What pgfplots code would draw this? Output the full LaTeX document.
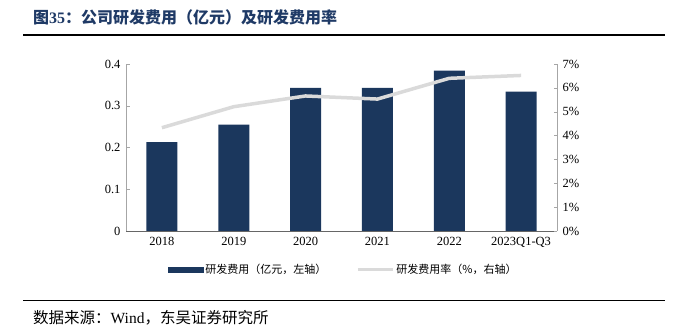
\documentclass[border=0pt]{standalone}
\usepackage{pgfplots}
\pgfplotsset{compat=1.18}
\usepackage{fontspec}
\setmainfont{Liberation Serif}
\newfontfamily\cjk{Noto Sans CJK SC}
\definecolor{barblue}{HTML}{1B375D}
\definecolor{linegray}{HTML}{DADADA}
\definecolor{titleblue}{HTML}{1F3A66}
\definecolor{axgray}{HTML}{A6A6A6}
\pgfplotsset{
 barlegend/.style={legend image code/.code={\fill[barblue] (0pt,-2.5pt) rectangle (35pt,2.5pt);}},
 linelegend/.style={legend image code/.code={\draw[linegray, line width=3pt] (0pt,0pt) -- (35pt,0pt);}},
}
\begin{document}
\begin{tikzpicture}[x=1pt,y=1pt]
\useasboundingbox (0,0) rectangle (682,332);
\node[anchor=west, text=titleblue, font=\fontsize{16}{18}\selectfont\bfseries, inner sep=0pt] at (33,315) {{\cjk 图}35{\cjk ：公司研发费用（亿元）及研发费用率}};
\draw[line width=1.8pt] (23,297) -- (665,297);
\draw[line width=1.2pt] (23,31.5) -- (665,31.5);
\node[anchor=west, font=\fontsize{15.5}{17}\selectfont, inner sep=0pt] at (33,14) {{\cjk 数据来源：}Wind{\cjk ，东吴证券研究所}};

\begin{axis}[
  at={(126pt,101pt)}, anchor=south west, scale only axis,
  width=431pt, height=167pt,
  xmin=-0.5, xmax=5.5, ymin=0, ymax=0.4,
  ytick={0,0.1,0.2,0.3,0.4},
  xtick={0,1,2,3,4,5},
  xticklabels={2018,2019,2020,2021,2022,2023Q1-Q3},
  axis y line*=left, axis x line*=bottom,
  axis line style={-, draw=axgray},
  x axis line style={draw=gray!80!black},
  tick align=inside,
  major tick length=3.5pt,
  x tick style={draw=none},
  y tick style={draw=axgray},
  ticklabel style={font=\fontsize{12.5}{14}\selectfont},
  /pgf/number format/assume math mode=true,
  yticklabel style={/pgf/number format/fixed, /pgf/number format/precision=1, xshift=-2pt},
  xticklabel style={yshift=-3pt},
]
\addplot[ybar, fill=barblue, draw=none, bar width=31pt] coordinates {
 (0,0.213) (1,0.255) (2,0.343) (3,0.343) (4,0.384) (5,0.334)
};
\end{axis}

\begin{axis}[
  at={(126pt,101pt)}, anchor=south west, scale only axis,
  width=431pt, height=167pt,
  xmin=-0.5, xmax=5.5, ymin=0, ymax=7,
  ytick={0,1,2,3,4,5,6,7},
  yticklabel={\pgfmathprintnumber{\tick}\%},
  axis y line*=right, axis x line=none,
  axis line style={-, draw=axgray},
  tick align=inside,
  major tick length=3.5pt,
  y tick style={draw=axgray},
  ticklabel style={font=\fontsize{12.5}{14}\selectfont},
  /pgf/number format/assume math mode=true,
  yticklabel style={xshift=2pt},
  legend style={at={(0.097,-0.2335)}, anchor=west, draw=none, fill=none,
    legend columns=2, inner sep=0pt,
    font=\cjk\fontsize{11}{13}\selectfont,
    /tikz/every even column/.append style={column sep=28pt}},
  legend cell align=left,
]
\addlegendimage{barlegend}
\addlegendentry{研发费用（亿元，左轴）}
\addplot[linegray, line width=3.5pt, linelegend] coordinates {
 (0,4.33) (1,5.21) (2,5.66) (3,5.53) (4,6.40) (5,6.52)
};
\addlegendentry{研发费用率（\%，右轴）}
\end{axis}
\end{tikzpicture}
\end{document}
